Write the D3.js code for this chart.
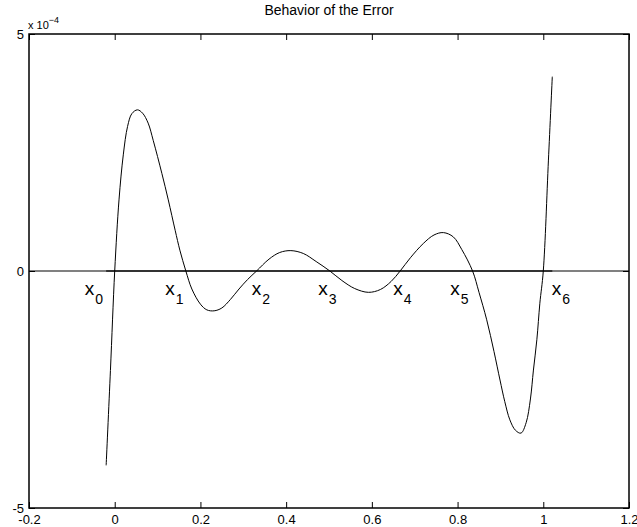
<!DOCTYPE html>
<html>
<head>
<meta charset="utf-8">
<script src="https://cdn.jsdelivr.net/npm/d3@7"></script>
<style>
  body { margin: 0; background: #fff; }
  text { font-family: "Liberation Sans", Arial, sans-serif; fill: #000; }
</style>
</head>
<body>
<svg id="chart" width="637" height="527"></svg>
<script>
// error curve (x, error in units of 1e-4)
var errX = [-0.02, -0.01, 0, 0.01, 0.02, 0.03, 0.04, 0.053, 0.065, 0.078, 0.09, 0.11, 0.125, 0.141, 0.152, 0.166,
            0.18, 0.2, 0.215, 0.232, 0.25, 0.27, 0.29, 0.31, 0.331, 0.36, 0.385, 0.411, 0.44, 0.47, 0.502,
            0.53, 0.56, 0.592, 0.62, 0.645, 0.666, 0.69, 0.72, 0.745, 0.767, 0.79, 0.81, 0.835,
            0.85, 0.868, 0.885, 0.899, 0.91, 0.922, 0.935, 0.948, 0.96, 0.97, 0.977, 0.985, 0.992, 1.0, 1.012, 1.021];
var errY = [-4.10, -2.1, 0, 1.5, 2.45, 3.05, 3.32, 3.40, 3.33, 3.12, 2.75, 2.06, 1.5, 0.86, 0.44, 0,
            -0.38, -0.7, -0.82, -0.84, -0.78, -0.6, -0.38, -0.18, 0, 0.25, 0.39, 0.43, 0.37, 0.2, 0,
            -0.2, -0.37, -0.45, -0.39, -0.22, 0, 0.28, 0.58, 0.76, 0.81, 0.72, 0.45, 0,
            -0.45, -1.03, -1.7, -2.3, -2.75, -3.14, -3.36, -3.42, -3.2, -2.7, -2.09, -1.45, -0.68, 0, 2.34, 4.10];

var xTicks = [-0.2, 0, 0.2, 0.4, 0.6, 0.8, 1, 1.2];
var yTicks = [-5, 0, 5];

// node labels x_0 .. x_6
var nodeNames = ["0", "1", "2", "3", "4", "5", "6"];
var nodeLabelX = [-0.07, 0.118, 0.32, 0.475, 0.65, 0.783, 1.02];
var nodeLabelY = -0.5;

var zeroLineFull = [-0.2, 1.2];
var zeroLineCurve = [-0.02, 1.021];

var svg = d3.select("#chart"),
    margin = {top: 34, right: 8, bottom: 19, left: 29},
    width = +svg.attr("width") - margin.left - margin.right,
    height = +svg.attr("height") - margin.top - margin.bottom;

var x = d3.scaleLinear().domain([-0.2, 1.2]).range([0, width]);
var y = d3.scaleLinear().domain([-5, 5]).range([height, 0]);

var g = svg.append("g")
    .attr("transform", "translate(" + margin.left + "," + margin.top + ")");

// zero line
g.append("line")
    .attr("x1", x(zeroLineFull[0])).attr("x2", x(zeroLineFull[1]))
    .attr("y1", y(0)).attr("y2", y(0))
    .attr("stroke", "#808080").attr("stroke-width", 2);
g.append("line")
    .attr("x1", x(zeroLineCurve[0])).attr("x2", x(zeroLineCurve[1]))
    .attr("y1", y(0)).attr("y2", y(0))
    .attr("stroke", "#333").attr("stroke-width", 2);

// the error curve
var pts = errX.map(function(d, i) { return [d, errY[i]]; });
var line = d3.line()
    .x(function(d) { return x(d[0]); })
    .y(function(d) { return y(d[1]); })
    .curve(d3.curveCatmullRom.alpha(0.5));

g.append("path")
    .datum(pts)
    .attr("d", line)
    .attr("fill", "none")
    .attr("stroke", "#000")
    .attr("stroke-width", 1);

// axes: ticks pointing inward, labels outside
var tickLen = 6;
g.append("g")
    .attr("transform", "translate(0," + height + ")")
    .call(d3.axisBottom(x).tickValues(xTicks).tickSizeInner(-tickLen).tickSizeOuter(0).tickPadding(9)
      .tickFormat(function(d) { return d3.format("")(d).replace("−", "-"); }))
    .call(function(a) {
      a.select(".domain").remove();
      a.selectAll("text").attr("font-size", 13).attr("font-family", "Liberation Sans, Arial, sans-serif").attr("dy", "0.55em");
    });

g.append("g")
    .call(d3.axisTop(x).tickValues(xTicks).tickSizeInner(-tickLen).tickSizeOuter(0).tickFormat(""))
    .call(function(a) { a.select(".domain").remove(); });

g.append("g")
    .call(d3.axisLeft(y).tickValues(yTicks).tickSizeInner(-tickLen).tickSizeOuter(0).tickPadding(5)
      .tickFormat(function(d) { return String(d); }))
    .call(function(a) {
      a.select(".domain").remove();
      a.selectAll("text").attr("font-size", 13).attr("font-family", "Liberation Sans, Arial, sans-serif");
    });

g.append("g")
    .attr("transform", "translate(" + width + ",0)")
    .call(d3.axisRight(y).tickValues(yTicks).tickSizeInner(-tickLen).tickSizeOuter(0).tickFormat(""))
    .call(function(a) { a.select(".domain").remove(); });

g.selectAll(".tick line").attr("stroke", "#000");

// box
g.append("rect")
    .attr("width", width).attr("height", height)
    .attr("fill", "none").attr("stroke", "#000").attr("stroke-width", 1.5);

// exponent label
var expo = svg.append("text").attr("x", margin.left - 1).attr("y", 29).attr("font-size", 11);
expo.append("tspan").text("x 10");
expo.append("tspan").attr("font-size", 9).attr("dy", -6).text("−4");

// title
svg.append("text")
    .attr("x", margin.left + width / 2).attr("y", 15)
    .attr("text-anchor", "middle").attr("font-size", 14)
    .text("Behavior of the Error");

// node labels
var nodes = g.selectAll(".node")
    .data(nodeNames)
    .enter().append("text")
    .attr("class", "node")
    .attr("x", function(d, i) { return x(nodeLabelX[i]); })
    .attr("y", y(nodeLabelY))
    .attr("font-size", 19);
nodes.append("tspan").text("x");
nodes.append("tspan").attr("font-size", 14).attr("dy", 9).attr("dx", 1).text(function(d) { return d; });
</script>
</body>
</html>
